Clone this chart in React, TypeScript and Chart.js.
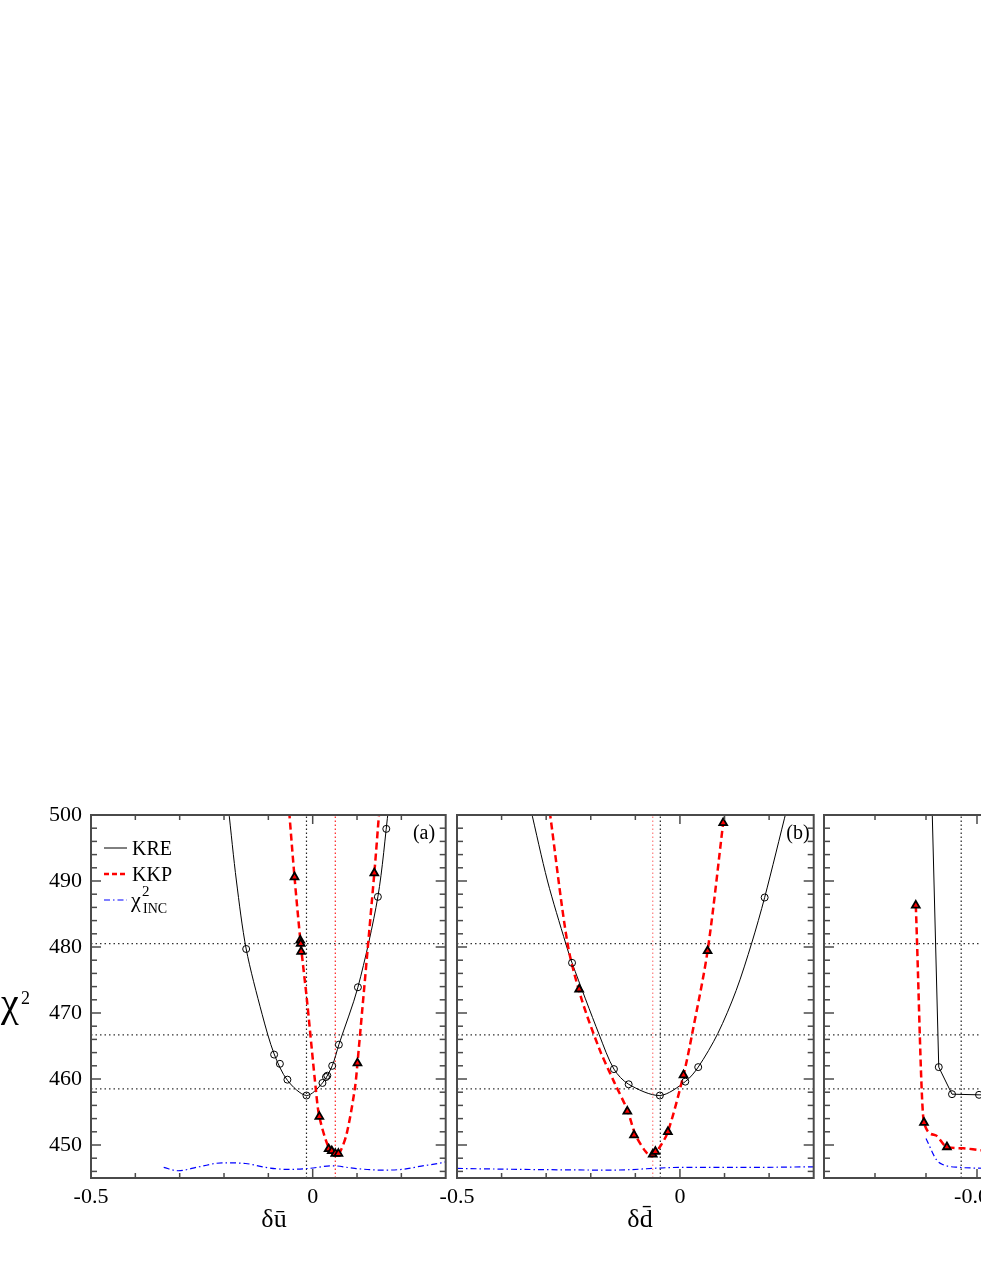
import React, { useEffect, useRef } from 'react';
import { Chart, registerables } from 'chart.js';

Chart.register(...registerables);

const SERIF = "'Liberation Serif', 'Times New Roman', serif";

// ---------- shared y axis ----------
const yMin = 445;
const yMax = 500;
const yTicks = [446, 448, 450, 452, 454, 456, 458, 460, 462, 464, 466, 468, 470, 472, 474, 476, 478, 480, 482, 484, 486, 488, 490, 492, 494, 496, 498, 500];
const yTickLabels = ['450', '460', '470', '480', '490', '500'];
const chi2Levels = [458.5, 466.7, 480.5];

// ---------- panel (a): δū ----------
const xRangeA = [-0.5, 0.3];
const xTicksA = [-0.5, -0.4, -0.3, -0.2, -0.1, 0, 0.1, 0.2, 0.3];
const xTickLabelsA = ['-0.5', '0'];
const kreMarksAx = [-0.150, -0.087, -0.074, -0.057, -0.014, 0.022, 0.030, 0.033, 0.044, 0.059, 0.102, 0.147, 0.166];
const kreMarksAy = [479.7, 463.7, 462.3, 459.9, 457.5, 459.4, 460.3, 460.5, 462.0, 465.2, 473.9, 487.6, 497.9];
const kreCurveAx = [-0.190, -0.172, -0.150, -0.114, -0.087, -0.057, -0.014, 0.022, 0.044, 0.059, 0.102, 0.147, 0.171];
const kreCurveAy = [501, 490, 479.7, 469.8, 463.8, 459.8, 457.5, 459.4, 462.0, 465.2, 473.9, 487.6, 501];
const kkpMarksAx = [-0.041, -0.028, -0.027, -0.026, 0.015, 0.036, 0.043, 0.051, 0.058, 0.101, 0.139];
const kkpMarksAy = [490.6, 481.0, 480.5, 479.3, 454.3, 449.4, 449.1, 448.7, 448.7, 462.4, 491.2];
const kkpCurveAx = [-0.053, -0.041, -0.027, -0.013, 0.007, 0.015, 0.036, 0.051, 0.062, 0.077, 0.095, 0.101, 0.139, 0.150];
const kkpCurveAy = [500.5, 490.6, 480.5, 472.0, 458.5, 454.3, 449.6, 448.5, 449.0, 451.8, 458.5, 462.4, 491.2, 500.5];
const incAx = [-0.336, -0.304, -0.256, -0.204, -0.151, -0.106, -0.054, -0.009, 0.045, 0.095, 0.155, 0.200, 0.245, 0.290, 0.300];
const incAy = [446.6, 446.1, 446.7, 447.3, 447.2, 446.6, 446.3, 446.45, 446.85, 446.45, 446.2, 446.3, 446.8, 447.3, 447.45];
const vBlackA = [-0.014];
const vRedA = [0.051];

// ---------- panel (b): δd̄ ----------
const xRangeB = [-0.5, 0.3];
const xTicksB = [-0.5, -0.4, -0.3, -0.2, -0.1, 0, 0.1, 0.2, 0.3];
const xTickLabelsB = ['-0.5', '0'];
const kreMarksBx = [-0.242, -0.148, -0.115, -0.045, 0.012, 0.041, 0.190];
const kreMarksBy = [477.6, 461.5, 459.2, 457.5, 459.6, 461.8, 487.5];
const kreCurveBx = [-0.335, -0.297, -0.256, -0.242, -0.181, -0.148, -0.115, -0.045, 0.012, 0.041, 0.085, 0.126, 0.161, 0.190, 0.240];
const kreCurveBy = [501, 490, 480.5, 477.6, 466.7, 461.5, 459.2, 457.5, 459.6, 461.8, 466.9, 473.4, 480.6, 487.5, 501];
const kkpMarksBx = [-0.226, -0.118, -0.103, -0.061, -0.055, -0.027, 0.008, 0.062, 0.097];
const kkpMarksBy = [473.6, 455.1, 451.5, 448.6, 449.0, 452.0, 460.6, 479.4, 498.8];
const kkpCurveBx = [-0.292, -0.252, -0.222, -0.181, -0.148, -0.118, -0.100, -0.077, -0.063, -0.047, -0.027, 0.008, 0.027, 0.062, 0.097];
const kkpCurveBy = [500.5, 480.5, 472.4, 464.6, 459.6, 455.3, 451.6, 449.0, 448.3, 449.5, 452.0, 460.6, 466.7, 479.4, 498.8];
const incBx = [-0.5, -0.35, -0.15, 0.0, 0.15, 0.3];
const incBy = [446.45, 446.3, 446.2, 446.6, 446.6, 446.7];
const vBlackB = [-0.044];
const vRedB = [-0.061];

// ---------- panel (c) ----------
const xRangeC = [-0.08, -0.01];
const xTicksC = [-0.07, -0.06, -0.05, -0.04, -0.03, -0.02];
const xTickLabelsC = ['-0.05'];
const kreMarksCx = [-0.0575, -0.0549, -0.0496];
const kreMarksCy = [461.8, 457.7, 457.6];
const kreCurveCx = [-0.0588, -0.0575, -0.0549, -0.0496, -0.040];
const kreCurveCy = [501, 461.8, 457.7, 457.6, 457.6];
const kkpMarksCx = [-0.0620, -0.0604, -0.0559];
const kkpMarksCy = [486.3, 453.4, 449.7];
const kkpCurveCx = [-0.0620, -0.0604, -0.0582, -0.0559, -0.0527, -0.0492, -0.040];
const kkpCurveCy = [486.3, 453.4, 451.5, 449.7, 449.5, 449.2, 449.0];
const incCx = [-0.0600, -0.0579, -0.0566, -0.0533, -0.0501, -0.040];
const incCy = [451.0, 447.7, 447.0, 446.6, 446.5, 446.4];
const vBlackC = [-0.0531];
const vRedC: number[] = [];

// ---------- helpers ----------
type Pt = { x: number; y: number };
const zip = (xs: number[], ys: number[]): Pt[] => xs.map((x, i) => ({ x, y: ys[i] }));
const fmt = (v: number) => String(Math.round(v * 1000) / 1000);

interface PanelSpec {
  left: number; top: number; width: number; height: number;
  yAxisWidth: number; padTop: number; padRight: number; xAxisHeight: number;
  xRange: number[]; xTicks: number[]; xTickLabels: string[];
  showYLabels: boolean;
  kreMarks: Pt[]; kreCurve: Pt[]; kkpMarks: Pt[]; kkpCurve: Pt[]; inc: Pt[];
  smooth: boolean;
  vBlack: number[]; vRed: number[]; redVColor: string;
  decorate?: (ctx: CanvasRenderingContext2D) => void;
}

function drawLegendA(ctx: CanvasRenderingContext2D) {
  ctx.textAlign = 'left';
  ctx.textBaseline = 'alphabetic';
  ctx.fillStyle = '#000';
  // KRE
  ctx.strokeStyle = '#000'; ctx.lineWidth = 1; ctx.setLineDash([]);
  ctx.beginPath(); ctx.moveTo(104, 848); ctx.lineTo(127, 848); ctx.stroke();
  ctx.font = `20px ${SERIF}`;
  ctx.fillText('KRE', 132, 855);
  // KKP
  ctx.strokeStyle = '#ff0000'; ctx.lineWidth = 2.5; ctx.setLineDash([5, 3]);
  ctx.beginPath(); ctx.moveTo(104, 874); ctx.lineTo(127, 874); ctx.stroke();
  ctx.fillText('KKP', 132, 881);
  // INC
  ctx.strokeStyle = '#0000ff'; ctx.lineWidth = 1.2; ctx.setLineDash([6, 3, 1.5, 3]);
  ctx.beginPath(); ctx.moveTo(104, 900); ctx.lineTo(127, 900); ctx.stroke();
  ctx.setLineDash([]);
  ctx.font = `22px ${SERIF}`;
  ctx.fillText('χ', 131, 907);
  ctx.font = `15px ${SERIF}`;
  ctx.fillText('2', 142, 896);
  ctx.font = `14px ${SERIF}`;
  ctx.fillText('INC', 143, 913);
}

function decorateA(ctx: CanvasRenderingContext2D) {
  drawLegendA(ctx);
  ctx.fillStyle = '#000';
  ctx.textAlign = 'center';
  ctx.textBaseline = 'alphabetic';
  ctx.font = `20px ${SERIF}`;
  ctx.fillText('(a)', 424, 839);
  ctx.textAlign = 'left';
  ctx.font = `40px ${SERIF}`;
  ctx.fillText('χ', 1, 1016);
  ctx.font = `18px ${SERIF}`;
  ctx.fillText('2', 21, 1004);
  ctx.textAlign = 'center';
  ctx.font = `26px ${SERIF}`;
  ctx.fillText('δū', 274, 1227);
}

function decorateB(ctx: CanvasRenderingContext2D) {
  ctx.fillStyle = '#000';
  ctx.textAlign = 'center';
  ctx.textBaseline = 'alphabetic';
  ctx.font = `20px ${SERIF}`;
  ctx.fillText('(b)', 798, 839);
  ctx.font = `26px ${SERIF}`;
  ctx.fillText('δd\u0304', 640, 1227);
}

const panels: PanelSpec[] = [
  {
    left: 0, top: 790, width: 452, height: 450,
    yAxisWidth: 91, padTop: 25, padRight: 4, xAxisHeight: 62,
    xRange: xRangeA, xTicks: xTicksA, xTickLabels: xTickLabelsA, showYLabels: true,
    kreMarks: zip(kreMarksAx, kreMarksAy), kreCurve: zip(kreCurveAx, kreCurveAy),
    kkpMarks: zip(kkpMarksAx, kkpMarksAy), kkpCurve: zip(kkpCurveAx, kkpCurveAy),
    inc: zip(incAx, incAy), smooth: true,
    vBlack: vBlackA, vRed: vRedA, redVColor: '#ff2020',
    decorate: decorateA,
  },
  {
    left: 420, top: 790, width: 400, height: 450,
    yAxisWidth: 37, padTop: 25, padRight: 4, xAxisHeight: 62,
    xRange: xRangeB, xTicks: xTicksB, xTickLabels: xTickLabelsB, showYLabels: false,
    kreMarks: zip(kreMarksBx, kreMarksBy), kreCurve: zip(kreCurveBx, kreCurveBy),
    kkpMarks: zip(kkpMarksBx, kkpMarksBy), kkpCurve: zip(kkpCurveBx, kkpCurveBy),
    inc: zip(incBx, incBy), smooth: true,
    vBlack: vBlackB, vRed: vRedB, redVColor: 'rgba(255,80,80,0.75)',
    decorate: decorateB,
  },
  {
    left: 790, top: 790, width: 400, height: 450,
    yAxisWidth: 34, padTop: 25, padRight: 9, xAxisHeight: 62,
    xRange: xRangeC, xTicks: xTicksC, xTickLabels: xTickLabelsC, showYLabels: false,
    kreMarks: zip(kreMarksCx, kreMarksCy), kreCurve: zip(kreCurveCx, kreCurveCy),
    kkpMarks: zip(kkpMarksCx, kkpMarksCy), kkpCurve: zip(kkpCurveCx, kkpCurveCy),
    inc: zip(incCx, incCy), smooth: false,
    vBlack: vBlackC, vRed: vRedC, redVColor: '#ff2020',
  },
];

function makeFramePlugin(s: PanelSpec) {
  return {
    id: 'frameAndTicks',
    afterDraw(chart: any) {
      const { ctx, chartArea, scales } = chart;
      const { left, right, top, bottom } = chartArea;
      ctx.save();
      ctx.strokeStyle = '#4a4a4a';
      ctx.lineWidth = 1.5;
      ctx.setLineDash([]);
      const seg = (x1: number, y1: number, x2: number, y2: number) => {
        ctx.beginPath(); ctx.moveTo(x1, y1); ctx.lineTo(x2, y2); ctx.stroke();
      };
      for (const t of scales.x.ticks) {
        const px = scales.x.getPixelForValue(t.value);
        if (px <= left + 1.5 || px >= right - 1.5) continue;
        const len = s.xTickLabels.includes(fmt(t.value)) ? 9 : 5;
        seg(px, bottom, px, bottom - len);
        seg(px, top, px, top + len);
      }
      for (const t of scales.y.ticks) {
        const py = scales.y.getPixelForValue(t.value);
        if (py <= top + 1.5 || py >= bottom - 1.5) continue;
        const len = yTickLabels.includes(fmt(t.value)) ? 10 : 6;
        seg(left, py, left + len, py);
        seg(right, py, right - len, py);
      }
      ctx.lineWidth = 2;
      ctx.strokeRect(left, top, right - left, bottom - top);
      if (s.decorate) {
        ctx.translate(-s.left, -s.top);
        s.decorate(ctx);
      }
      ctx.restore();
    },
  };
}

function buildConfig(s: PanelSpec): any {
  const [xMin, xMax] = s.xRange;
  const curveShape = s.smooth
    ? { tension: 0.3, cubicInterpolationMode: 'default', capBezierPoints: false }
    : { tension: 0 };
  const datasets: any[] = [
    {
      label: 'KKP points', data: s.kkpMarks, showLine: false,
      pointStyle: 'triangle', pointRadius: 4.5, pointBorderWidth: 1.8,
      pointBorderColor: '#000', pointBackgroundColor: '#ff0000',
    },
    {
      label: 'KRE points', data: s.kreMarks, showLine: false,
      pointStyle: 'circle', pointRadius: 3.5, pointBorderWidth: 1,
      pointBorderColor: '#000', pointBackgroundColor: 'rgba(255,255,255,0)',
    },
    {
      label: 'KKP', data: s.kkpCurve, showLine: true, borderColor: '#ff0000',
      borderWidth: 2.5, borderDash: [7, 4], pointRadius: 0,
      ...(s.smooth ? curveShape : { cubicInterpolationMode: 'monotone' }),
    },
    {
      label: 'KRE', data: s.kreCurve, showLine: true, borderColor: '#000',
      borderWidth: 1, pointRadius: 0, ...curveShape,
    },
    {
      label: 'INC', data: s.inc, showLine: true, borderColor: '#0000ff',
      borderWidth: 1.2, borderDash: [6, 3, 1.5, 3], pointRadius: 0, cubicInterpolationMode: 'monotone',
    },
    ...s.vRed.map((v) => ({
      label: 'min KKP', data: [{ x: v, y: yMin }, { x: v, y: yMax }], showLine: true,
      borderColor: s.redVColor, borderWidth: 1.2, borderDash: [1.5, 2.5], pointRadius: 0,
    })),
    ...s.vBlack.map((v) => ({
      label: 'min KRE', data: [{ x: v, y: yMin }, { x: v, y: yMax }], showLine: true,
      borderColor: '#222', borderWidth: 1.2, borderDash: [1.5, 2.5], pointRadius: 0,
    })),
    ...chi2Levels.map((l) => ({
      label: 'level', data: [{ x: xMin, y: l }, { x: xMax, y: l }], showLine: true,
      borderColor: '#333', borderWidth: 1.3, borderDash: [1.5, 3], pointRadius: 0,
    })),
  ];
  return {
    type: 'scatter',
    data: { datasets },
    plugins: [makeFramePlugin(s)],
    options: {
      animation: false,
      responsive: false,
      devicePixelRatio: 1,
      events: [],
      layout: { padding: { top: s.padTop, right: s.padRight, left: 0, bottom: 0 } },
      plugins: { legend: { display: false }, tooltip: { enabled: false } },
      scales: {
        x: {
          type: 'linear', min: xMin, max: xMax,
          grid: { display: false, drawTicks: false },
          border: { display: false },
          afterBuildTicks: (sc: any) => { sc.ticks = s.xTicks.map((v) => ({ value: v })); },
          afterFit: (sc: any) => { sc.height = s.xAxisHeight; },
          ticks: {
            autoSkip: false, maxRotation: 0, minRotation: 0, padding: 6, color: '#000',
            font: { family: SERIF, size: 22 },
            callback: (v: number) => (s.xTickLabels.includes(fmt(v)) ? fmt(v) : ''),
          },
        },
        y: {
          type: 'linear', min: yMin, max: yMax,
          grid: { display: false, drawTicks: false },
          border: { display: false },
          afterBuildTicks: (sc: any) => { sc.ticks = yTicks.map((v) => ({ value: v })); },
          afterFit: (sc: any) => { sc.width = s.yAxisWidth; },
          ticks: {
            display: s.showYLabels, autoSkip: false, padding: 9, color: '#000',
            font: { family: SERIF, size: 22 },
            callback: (v: number) => (yTickLabels.includes(fmt(v)) ? fmt(v) : ''),
          },
        },
      },
    },
  };
}

function Panel({ spec }: { spec: PanelSpec }) {
  const ref = useRef<HTMLCanvasElement>(null);
  useEffect(() => {
    if (!ref.current) return;
    const chart = new Chart(ref.current, buildConfig(spec));
    return () => chart.destroy();
  }, [spec]);
  return (
    <canvas
      ref={ref}
      width={spec.width}
      height={spec.height}
      style={{ position: 'absolute', left: spec.left, top: spec.top, width: spec.width, height: spec.height }}
    />
  );
}

export default function App() {
  return (
    <div
      style={{
        position: 'fixed', left: 0, top: 0, width: 981, height: 1269,
        overflow: 'hidden', background: '#fff',
      }}
    >
      {panels.map((p, i) => (
        <Panel key={i} spec={p} />
      ))}
    </div>
  );
}
